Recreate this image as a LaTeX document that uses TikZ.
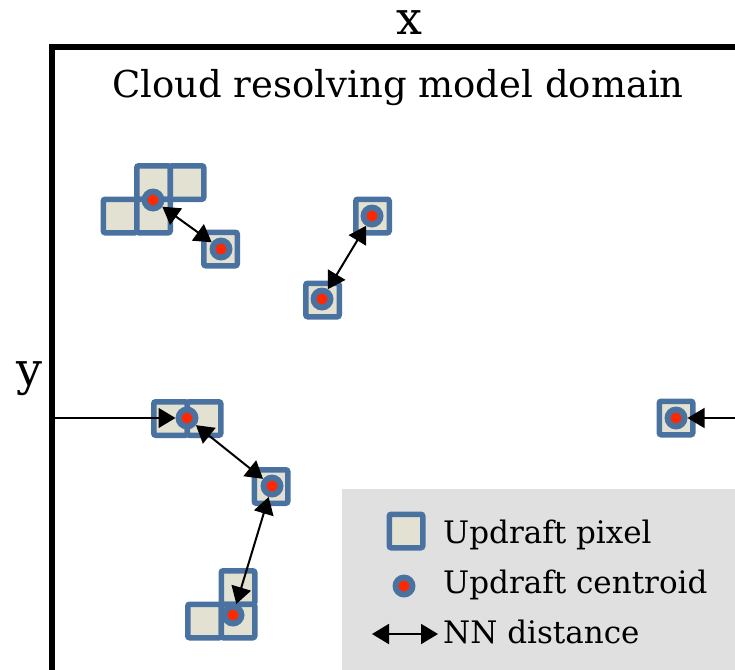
\documentclass[tikz,border=0pt]{standalone}
\usepackage{fontspec}
\setmainfont{DejaVu Serif}
\usetikzlibrary{arrows.meta}
\definecolor{cellblue}{RGB}{74,114,160}
\definecolor{cellfill}{RGB}{227,225,209}
\definecolor{dotred}{RGB}{255,40,0}
\definecolor{legendgrey}{RGB}{224,224,224}
\tikzset{
  cell/.style={draw=cellblue, fill=cellfill, line width=5.5pt, rounded corners=2pt,
    minimum size=33.5pt, inner sep=0pt, outer sep=0pt},
  centroid/.style={circle, fill=cellblue, minimum size=23pt, inner sep=0pt, outer sep=0pt,
    path picture={\fill[dotred] (path picture bounding box.center) circle (5.5pt);}},
  nn/.style={line width=2pt, {Triangle[length=17pt,width=20pt]}-{Triangle[length=17pt,width=20pt]}},
  nnone/.style={line width=1.5pt, -{Triangle[length=17pt,width=20pt]}},
  frame/.style={line width=6pt},
  bigtxt/.style={font=\fontsize{46pt}{50pt}\selectfont, inner sep=0pt, anchor=base},
  titletxt/.style={font=\fontsize{37pt}{42pt}\selectfont, inner sep=0pt, anchor=base},
  legtxt/.style={font=\fontsize{31pt}{36pt}\selectfont, inner sep=0pt, anchor=base west}
}
\begin{document}
\begin{tikzpicture}[x=1pt, y=-1pt]
\useasboundingbox (0,0) rectangle (735,669);
\clip (0,0) rectangle (735,669);
% frame
\draw[frame] (52,690) -- (52,47) -- (760,47);
\node[bigtxt] (xlab) at (409,35) {x};
\node[bigtxt] (ylab) at (29,385) {y};
\node[titletxt] (title) at (398,97) {Cloud resolving model domain};
% legend background
\fill[legendgrey] (342,489) rectangle (760,690);
% group A
\node[cell] (a1) at (153.5,182.5) {};
\node[cell] (a2) at (187,182.5) {};
\node[cell] (a3) at (120,216) {};
\node[cell] (a4) at (153.5,216) {};
\node[cell] (b1) at (220.5,249) {};
% group B
\node[cell] (c1) at (372.5,216) {};
\node[cell] (d1) at (322.5,300) {};
% group C
\node[cell] (e1) at (170.5,418.5) {};
\node[cell] (e2) at (204,418.5) {};
\node[cell] (f1) at (271,486.5) {};
% group E
\node[cell] (g1) at (238,587.5) {};
\node[cell] (g2) at (204.5,621) {};
\node[cell] (g3) at (238,621) {};
% right
\node[cell] (h1) at (676,418) {};
% centroids
\node[centroid] (ca) at (153,200) {};
\node[centroid] (cb) at (221,249) {};
\node[centroid] (cc) at (372,216) {};
\node[centroid] (cd) at (322,299) {};
\node[centroid] (ce) at (187,418) {};
\node[centroid] (cf) at (272,486) {};
\node[centroid] (cg) at (233,615) {};
\node[centroid] (ch) at (676,418) {};
% connectors
\coordinate (lin) at (52,418);
\coordinate (rin) at (740,418);
\draw[nn] (ca) -- (cb);
\draw[nn] (cd) -- (cc);
\draw[nn] (ce) -- (cf);
\draw[nn] (cg) -- (cf);
\draw[nnone] (lin) -- (ce);
\draw[nnone] (rin) -- (ch);
% legend
\node[cell] (lcell) at (406,531) {};
\node[centroid] (lcen) at (404,586) {};
\coordinate (la) at (372,634);
\coordinate (lb) at (438,634);
\draw[nn] (la) -- (lb);
\node[legtxt] (t1) at (443,543) {Updraft pixel};
\node[legtxt] (t2) at (443,593) {Updraft centroid};
\node[legtxt] (t3) at (443,643) {NN distance};
\end{tikzpicture}
\end{document}
